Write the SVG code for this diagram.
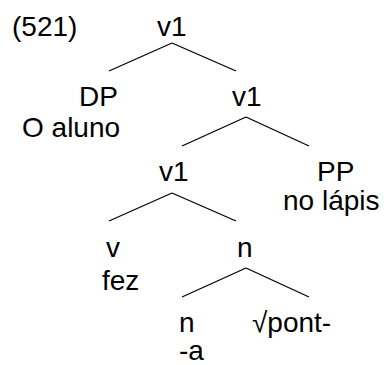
<svg xmlns="http://www.w3.org/2000/svg" width="386" height="365" viewBox="0 0 386 365">
<style>
text{font-family:"Liberation Sans",Arial,sans-serif;font-size:28px;fill:#000}
.e line{stroke:#000;stroke-width:1.3}
</style>
<rect width="386" height="365" fill="#fff"/>
<g id="connectors" class="e">
<line x1="172" y1="43" x2="109" y2="71"/>
<line x1="172" y1="43" x2="236" y2="71"/>
<line x1="246" y1="117" x2="182" y2="146"/>
<line x1="246" y1="117" x2="309" y2="146"/>
<line x1="172" y1="193" x2="109" y2="221"/>
<line x1="172" y1="193" x2="236" y2="221"/>
<line x1="246" y1="268" x2="182" y2="297"/>
<line x1="246" y1="268" x2="309" y2="297"/>
</g>
<g id="ex"><text x="12" y="36">(521)</text></g>
<g id="v1a"><text x="157" y="36">v1</text></g>
<g id="dp"><text x="79" y="106">DP</text><text x="22" y="137">O aluno</text></g>
<g id="v1b"><text x="232" y="106">v1</text></g>
<g id="v1c"><text x="159" y="181">v1</text></g>
<g id="pp"><text x="317" y="181">PP</text><text x="283" y="210">no lápis</text></g>
<g id="v"><text x="106" y="257">v</text><text x="102" y="290">fez</text></g>
<g id="n1"><text x="237" y="257">n</text></g>
<g id="n2"><text x="179" y="332">n</text><text x="179" y="360">-a</text></g>
<g id="root"><text x="252" y="332">√pont-</text></g>
</svg>
